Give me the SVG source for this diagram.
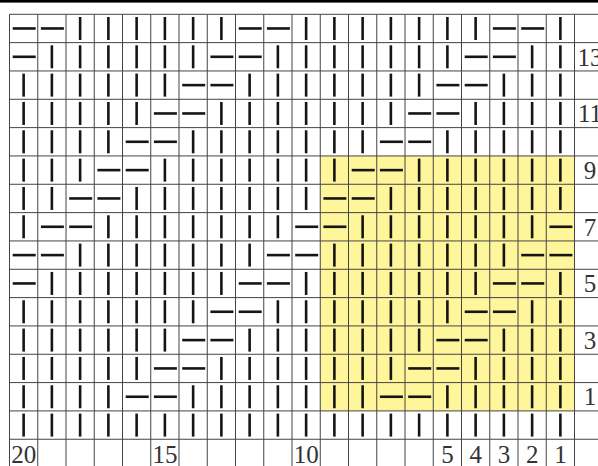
<svg xmlns="http://www.w3.org/2000/svg" xmlns:xlink="http://www.w3.org/1999/xlink" width="598" height="466" viewBox="0 0 598 466">
<style>
.grid line{stroke:#444;stroke-width:1}
.sym{stroke:#151515;stroke-width:2.6;stroke-linecap:butt}
.num{font-family:"Liberation Serif","Times New Roman",serif;font-size:25px;fill:#333;text-anchor:middle}
</style>
<defs>
<line id="b" class="sym" x1="0" y1="-11.5" x2="0" y2="11.5"/>
<line id="d" class="sym" x1="-11.5" y1="0" x2="11.5" y2="0"/>
</defs>
<rect x="0" y="0" width="598" height="466" fill="#fff"/>
<rect x="0" y="0" width="598" height="2.6" fill="#000"/>
<rect id="highlight" x="320.25" y="155.95" width="254.25" height="254.97" fill="#fff59a"/>
<g class="grid" id="grid">
<line x1="9.5" y1="14.3" x2="598" y2="14.3"/>
<line x1="9.5" y1="42.63" x2="598" y2="42.63"/>
<line x1="9.5" y1="70.96" x2="598" y2="70.96"/>
<line x1="9.5" y1="99.29" x2="598" y2="99.29"/>
<line x1="9.5" y1="127.62" x2="598" y2="127.62"/>
<line x1="9.5" y1="155.95" x2="598" y2="155.95"/>
<line x1="9.5" y1="184.28" x2="598" y2="184.28"/>
<line x1="9.5" y1="212.61" x2="598" y2="212.61"/>
<line x1="9.5" y1="240.94" x2="598" y2="240.94"/>
<line x1="9.5" y1="269.27" x2="598" y2="269.27"/>
<line x1="9.5" y1="297.6" x2="598" y2="297.6"/>
<line x1="9.5" y1="325.93" x2="598" y2="325.93"/>
<line x1="9.5" y1="354.26" x2="598" y2="354.26"/>
<line x1="9.5" y1="382.59" x2="598" y2="382.59"/>
<line x1="9.5" y1="410.92" x2="598" y2="410.92"/>
<line x1="9.5" y1="439.25" x2="598" y2="439.25"/>
<line x1="9.5" y1="14.3" x2="9.5" y2="466"/>
<line x1="37.75" y1="14.3" x2="37.75" y2="466"/>
<line x1="66" y1="14.3" x2="66" y2="466"/>
<line x1="94.25" y1="14.3" x2="94.25" y2="466"/>
<line x1="122.5" y1="14.3" x2="122.5" y2="466"/>
<line x1="150.75" y1="14.3" x2="150.75" y2="466"/>
<line x1="179" y1="14.3" x2="179" y2="466"/>
<line x1="207.25" y1="14.3" x2="207.25" y2="466"/>
<line x1="235.5" y1="14.3" x2="235.5" y2="466"/>
<line x1="263.75" y1="14.3" x2="263.75" y2="466"/>
<line x1="292" y1="14.3" x2="292" y2="466"/>
<line x1="320.25" y1="14.3" x2="320.25" y2="466"/>
<line x1="348.5" y1="14.3" x2="348.5" y2="466"/>
<line x1="376.75" y1="14.3" x2="376.75" y2="466"/>
<line x1="405" y1="14.3" x2="405" y2="466"/>
<line x1="433.25" y1="14.3" x2="433.25" y2="466"/>
<line x1="461.5" y1="14.3" x2="461.5" y2="466"/>
<line x1="489.75" y1="14.3" x2="489.75" y2="466"/>
<line x1="518" y1="14.3" x2="518" y2="466"/>
<line x1="546.25" y1="14.3" x2="546.25" y2="466"/>
<line x1="574.5" y1="14.3" x2="574.5" y2="466"/>
</g>
<g id="stitches">
<g id="row14" transform="translate(0,28.47)">
<use href="#d" x="24.2"/><use href="#d" x="52.4"/><use href="#b" x="80.13"/><use href="#b" x="108.38"/><use href="#b" x="136.63"/><use href="#b" x="164.88"/><use href="#b" x="193.13"/><use href="#b" x="221.38"/><use href="#d" x="250.2"/><use href="#d" x="278.4"/><use href="#b" x="306.13"/><use href="#b" x="334.38"/><use href="#b" x="362.63"/><use href="#b" x="390.88"/><use href="#b" x="419.13"/><use href="#b" x="447.38"/><use href="#b" x="475.63"/><use href="#d" x="504.4"/><use href="#d" x="532.7"/><use href="#b" x="560.38"/>
</g>
<g id="row13" transform="translate(0,56.8)">
<use href="#d" x="24.2"/><use href="#b" x="51.88"/><use href="#b" x="80.13"/><use href="#b" x="108.38"/><use href="#b" x="136.63"/><use href="#b" x="164.88"/><use href="#b" x="193.13"/><use href="#d" x="221.9"/><use href="#d" x="250.2"/><use href="#b" x="277.88"/><use href="#b" x="306.13"/><use href="#b" x="334.38"/><use href="#b" x="362.63"/><use href="#b" x="390.88"/><use href="#b" x="419.13"/><use href="#b" x="447.38"/><use href="#d" x="476.2"/><use href="#d" x="504.4"/><use href="#b" x="532.13"/><use href="#b" x="560.38"/>
</g>
<g id="row12" transform="translate(0,85.13)">
<use href="#b" x="23.63"/><use href="#b" x="51.88"/><use href="#b" x="80.13"/><use href="#b" x="108.38"/><use href="#b" x="136.63"/><use href="#b" x="164.88"/><use href="#d" x="193.7"/><use href="#d" x="221.9"/><use href="#b" x="249.63"/><use href="#b" x="277.88"/><use href="#b" x="306.13"/><use href="#b" x="334.38"/><use href="#b" x="362.63"/><use href="#b" x="390.88"/><use href="#b" x="419.13"/><use href="#d" x="447.9"/><use href="#d" x="476.2"/><use href="#b" x="503.88"/><use href="#b" x="532.13"/><use href="#b" x="560.38"/>
</g>
<g id="row11" transform="translate(0,113.46)">
<use href="#b" x="23.63"/><use href="#b" x="51.88"/><use href="#b" x="80.13"/><use href="#b" x="108.38"/><use href="#b" x="136.63"/><use href="#d" x="165.4"/><use href="#d" x="193.7"/><use href="#b" x="221.38"/><use href="#b" x="249.63"/><use href="#b" x="277.88"/><use href="#b" x="306.13"/><use href="#b" x="334.38"/><use href="#b" x="362.63"/><use href="#b" x="390.88"/><use href="#d" x="419.7"/><use href="#d" x="447.9"/><use href="#b" x="475.63"/><use href="#b" x="503.88"/><use href="#b" x="532.13"/><use href="#b" x="560.38"/>
</g>
<g id="row10" transform="translate(0,141.79)">
<use href="#b" x="23.63"/><use href="#b" x="51.88"/><use href="#b" x="80.13"/><use href="#b" x="108.38"/><use href="#d" x="137.2"/><use href="#d" x="165.4"/><use href="#b" x="193.13"/><use href="#b" x="221.38"/><use href="#b" x="249.63"/><use href="#b" x="277.88"/><use href="#b" x="306.13"/><use href="#b" x="334.38"/><use href="#b" x="362.63"/><use href="#d" x="391.4"/><use href="#d" x="419.7"/><use href="#b" x="447.38"/><use href="#b" x="475.63"/><use href="#b" x="503.88"/><use href="#b" x="532.13"/><use href="#b" x="560.38"/>
</g>
<g id="row9" transform="translate(0,170.12)">
<use href="#b" x="23.63"/><use href="#b" x="51.88"/><use href="#b" x="80.13"/><use href="#d" x="108.9"/><use href="#d" x="137.2"/><use href="#b" x="164.88"/><use href="#b" x="193.13"/><use href="#b" x="221.38"/><use href="#b" x="249.63"/><use href="#b" x="277.88"/><use href="#b" x="306.13"/><use href="#b" x="334.38"/><use href="#d" x="363.2"/><use href="#d" x="391.4"/><use href="#b" x="419.13"/><use href="#b" x="447.38"/><use href="#b" x="475.63"/><use href="#b" x="503.88"/><use href="#b" x="532.13"/><use href="#b" x="560.38"/>
</g>
<g id="row8" transform="translate(0,198.45)">
<use href="#b" x="23.63"/><use href="#b" x="51.88"/><use href="#d" x="80.7"/><use href="#d" x="108.9"/><use href="#b" x="136.63"/><use href="#b" x="164.88"/><use href="#b" x="193.13"/><use href="#b" x="221.38"/><use href="#b" x="249.63"/><use href="#b" x="277.88"/><use href="#b" x="306.13"/><use href="#d" x="334.9"/><use href="#d" x="363.2"/><use href="#b" x="390.88"/><use href="#b" x="419.13"/><use href="#b" x="447.38"/><use href="#b" x="475.63"/><use href="#b" x="503.88"/><use href="#b" x="532.13"/><use href="#b" x="560.38"/>
</g>
<g id="row7" transform="translate(0,226.78)">
<use href="#b" x="23.63"/><use href="#d" x="52.4"/><use href="#d" x="80.7"/><use href="#b" x="108.38"/><use href="#b" x="136.63"/><use href="#b" x="164.88"/><use href="#b" x="193.13"/><use href="#b" x="221.38"/><use href="#b" x="249.63"/><use href="#b" x="277.88"/><use href="#d" x="306.7"/><use href="#d" x="334.9"/><use href="#b" x="362.63"/><use href="#b" x="390.88"/><use href="#b" x="419.13"/><use href="#b" x="447.38"/><use href="#b" x="475.63"/><use href="#b" x="503.88"/><use href="#b" x="532.13"/><use href="#d" x="560.9"/>
</g>
<g id="row6" transform="translate(0,255.11)">
<use href="#d" x="24.2"/><use href="#d" x="52.4"/><use href="#b" x="80.13"/><use href="#b" x="108.38"/><use href="#b" x="136.63"/><use href="#b" x="164.88"/><use href="#b" x="193.13"/><use href="#b" x="221.38"/><use href="#b" x="249.63"/><use href="#d" x="278.4"/><use href="#d" x="306.7"/><use href="#b" x="334.38"/><use href="#b" x="362.63"/><use href="#b" x="390.88"/><use href="#b" x="419.13"/><use href="#b" x="447.38"/><use href="#b" x="475.63"/><use href="#b" x="503.88"/><use href="#d" x="532.7"/><use href="#d" x="560.9"/>
</g>
<g id="row5" transform="translate(0,283.44)">
<use href="#d" x="24.2"/><use href="#b" x="51.88"/><use href="#b" x="80.13"/><use href="#b" x="108.38"/><use href="#b" x="136.63"/><use href="#b" x="164.88"/><use href="#b" x="193.13"/><use href="#b" x="221.38"/><use href="#d" x="250.2"/><use href="#d" x="278.4"/><use href="#b" x="306.13"/><use href="#b" x="334.38"/><use href="#b" x="362.63"/><use href="#b" x="390.88"/><use href="#b" x="419.13"/><use href="#b" x="447.38"/><use href="#b" x="475.63"/><use href="#d" x="504.4"/><use href="#d" x="532.7"/><use href="#b" x="560.38"/>
</g>
<g id="row4" transform="translate(0,311.77)">
<use href="#b" x="23.63"/><use href="#b" x="51.88"/><use href="#b" x="80.13"/><use href="#b" x="108.38"/><use href="#b" x="136.63"/><use href="#b" x="164.88"/><use href="#b" x="193.13"/><use href="#d" x="221.9"/><use href="#d" x="250.2"/><use href="#b" x="277.88"/><use href="#b" x="306.13"/><use href="#b" x="334.38"/><use href="#b" x="362.63"/><use href="#b" x="390.88"/><use href="#b" x="419.13"/><use href="#b" x="447.38"/><use href="#d" x="476.2"/><use href="#d" x="504.4"/><use href="#b" x="532.13"/><use href="#b" x="560.38"/>
</g>
<g id="row3" transform="translate(0,340.1)">
<use href="#b" x="23.63"/><use href="#b" x="51.88"/><use href="#b" x="80.13"/><use href="#b" x="108.38"/><use href="#b" x="136.63"/><use href="#b" x="164.88"/><use href="#d" x="193.7"/><use href="#d" x="221.9"/><use href="#b" x="249.63"/><use href="#b" x="277.88"/><use href="#b" x="306.13"/><use href="#b" x="334.38"/><use href="#b" x="362.63"/><use href="#b" x="390.88"/><use href="#b" x="419.13"/><use href="#d" x="447.9"/><use href="#d" x="476.2"/><use href="#b" x="503.88"/><use href="#b" x="532.13"/><use href="#b" x="560.38"/>
</g>
<g id="row2" transform="translate(0,368.43)">
<use href="#b" x="23.63"/><use href="#b" x="51.88"/><use href="#b" x="80.13"/><use href="#b" x="108.38"/><use href="#b" x="136.63"/><use href="#d" x="165.4"/><use href="#d" x="193.7"/><use href="#b" x="221.38"/><use href="#b" x="249.63"/><use href="#b" x="277.88"/><use href="#b" x="306.13"/><use href="#b" x="334.38"/><use href="#b" x="362.63"/><use href="#b" x="390.88"/><use href="#d" x="419.7"/><use href="#d" x="447.9"/><use href="#b" x="475.63"/><use href="#b" x="503.88"/><use href="#b" x="532.13"/><use href="#b" x="560.38"/>
</g>
<g id="row1" transform="translate(0,396.76)">
<use href="#b" x="23.63"/><use href="#b" x="51.88"/><use href="#b" x="80.13"/><use href="#b" x="108.38"/><use href="#d" x="137.2"/><use href="#d" x="165.4"/><use href="#b" x="193.13"/><use href="#b" x="221.38"/><use href="#b" x="249.63"/><use href="#b" x="277.88"/><use href="#b" x="306.13"/><use href="#b" x="334.38"/><use href="#b" x="362.63"/><use href="#d" x="391.4"/><use href="#d" x="419.7"/><use href="#b" x="447.38"/><use href="#b" x="475.63"/><use href="#b" x="503.88"/><use href="#b" x="532.13"/><use href="#b" x="560.38"/>
</g>
<g id="row0" transform="translate(0,425.09)">
<use href="#b" x="23.63"/><use href="#b" x="51.88"/><use href="#b" x="80.13"/><use href="#b" x="108.38"/><use href="#b" x="136.63"/><use href="#b" x="164.88"/><use href="#b" x="193.13"/><use href="#b" x="221.38"/><use href="#b" x="249.63"/><use href="#b" x="277.88"/><use href="#b" x="306.13"/><use href="#b" x="334.38"/><use href="#b" x="362.63"/><use href="#b" x="390.88"/><use href="#b" x="419.13"/><use href="#b" x="447.38"/><use href="#b" x="475.63"/><use href="#b" x="503.88"/><use href="#b" x="532.13"/><use href="#b" x="560.38"/>
</g>
</g>
<g id="row-labels" class="num">
<text x="590" y="65.5">13</text>
<text x="590" y="122.2">11</text>
<text x="590" y="178.8">9</text>
<text x="590" y="235.5">7</text>
<text x="590" y="292.1">5</text>
<text x="590" y="348.8">3</text>
<text x="590" y="405.4">1</text>
</g>
<g id="column-labels" class="num">
<text x="23.63" y="462.5">20</text>
<text x="164.88" y="462.5">15</text>
<text x="306.13" y="462.5">10</text>
<text x="447.38" y="462.5">5</text>
<text x="475.63" y="462.5">4</text>
<text x="503.88" y="462.5">3</text>
<text x="532.13" y="462.5">2</text>
<text x="560.38" y="462.5">1</text>
</g>
</svg>
